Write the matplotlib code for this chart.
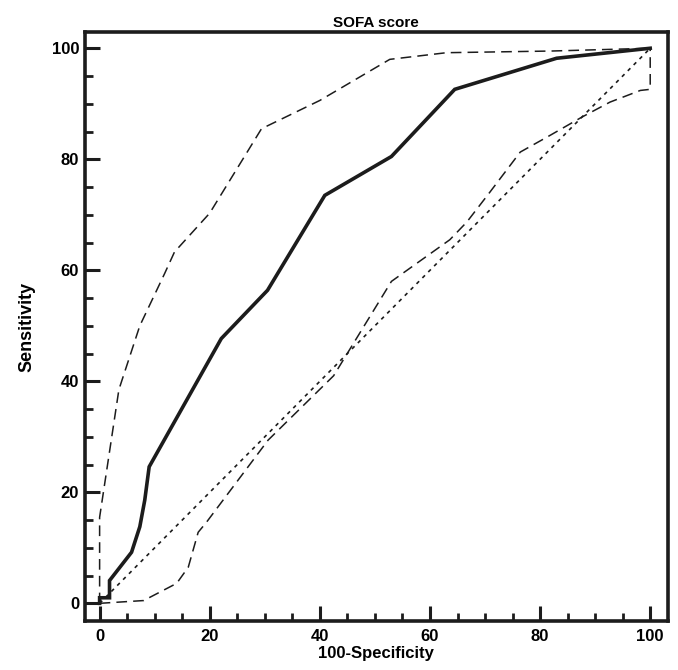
import matplotlib
matplotlib.use("Agg")
import matplotlib.pyplot as plt
from matplotlib.ticker import MultipleLocator

plt.rcParams["font.family"] = ["Liberation Sans", "DejaVu Sans"]
plt.rcParams["font.weight"] = "bold"

# ROC curve for SOFA score
roc_x = [0, 0, 1.8, 1.8, 5.8, 7.3, 8.2, 9.0, 22.1, 30.5, 40.9, 53.0, 64.5, 83.0, 100]
roc_y = [0, 1, 1, 4.1, 9.2, 13.8, 18.6, 24.6, 47.7, 56.4, 73.5, 80.5, 92.6, 98.2, 100]

# upper confidence band
upper_x = [0, 0, 3.5, 7.3, 11.8, 13.6, 20.0, 29.4, 40.0, 52.7, 63.0, 82.0, 100]
upper_y = [0, 15.5, 38.5, 50.0, 59.4, 63.3, 70.3, 85.5, 90.6, 98.0, 99.2, 99.5, 100]

# lower confidence band
lower_x = [0, 8.0, 14.0, 16.1, 17.9, 19.4, 30.6, 42.5, 53.0, 63.6, 66.7, 70.9, 76.4, 81.8, 87.6, 92.7, 98.2, 100, 100]
lower_y = [0, 0.5, 3.6, 6.5, 12.8, 14.6, 29.4, 41.0, 58.0, 65.5, 68.7, 74.1, 81.3, 84.3, 87.6, 90.3, 92.4, 92.6, 100]

# reference diagonal
diag_x = [0, 100]
diag_y = [0, 100]

ink = "#1c1c1c"

fig = plt.figure(figsize=(6.78, 6.70), dpi=100)
ax = fig.add_axes([0.125, 0.073, 0.86, 0.879])

ax.plot(diag_x, diag_y, color=ink, lw=1.2, linestyle=(0, (2.2, 2.8)))
ax.plot(upper_x, upper_y, color=ink, lw=1.1, linestyle=(0, (7, 4)))
ax.plot(lower_x, lower_y, color=ink, lw=1.1, linestyle=(0, (7, 4)))
ax.plot(roc_x, roc_y, color=ink, lw=2.6, solid_joinstyle="miter")

ax.set_xlim(-2.7, 103.2)
ax.set_ylim(-3.2, 102.9)

ax.xaxis.set_major_locator(MultipleLocator(20))
ax.xaxis.set_minor_locator(MultipleLocator(5))
ax.yaxis.set_major_locator(MultipleLocator(20))
ax.yaxis.set_minor_locator(MultipleLocator(5))
ax.tick_params(which="major", direction="in", length=11, width=2.2, color=ink,
               labelsize=12, pad=6)
ax.tick_params(which="minor", direction="in", length=5.5, width=2.0, color=ink)
ax.tick_params(axis="y", which="major", pad=4)

for s in ax.spines.values():
    s.set_linewidth(2.6)
    s.set_color(ink)

ax.set_title("SOFA score", fontsize=11, fontweight="bold", pad=4)
ax.set_xlabel("100-Specificity", fontsize=12, fontweight="bold", labelpad=1)
ax.set_ylabel("Sensitivity", fontsize=13, fontweight="bold", labelpad=12)

fig.savefig("out.png", dpi=100)
